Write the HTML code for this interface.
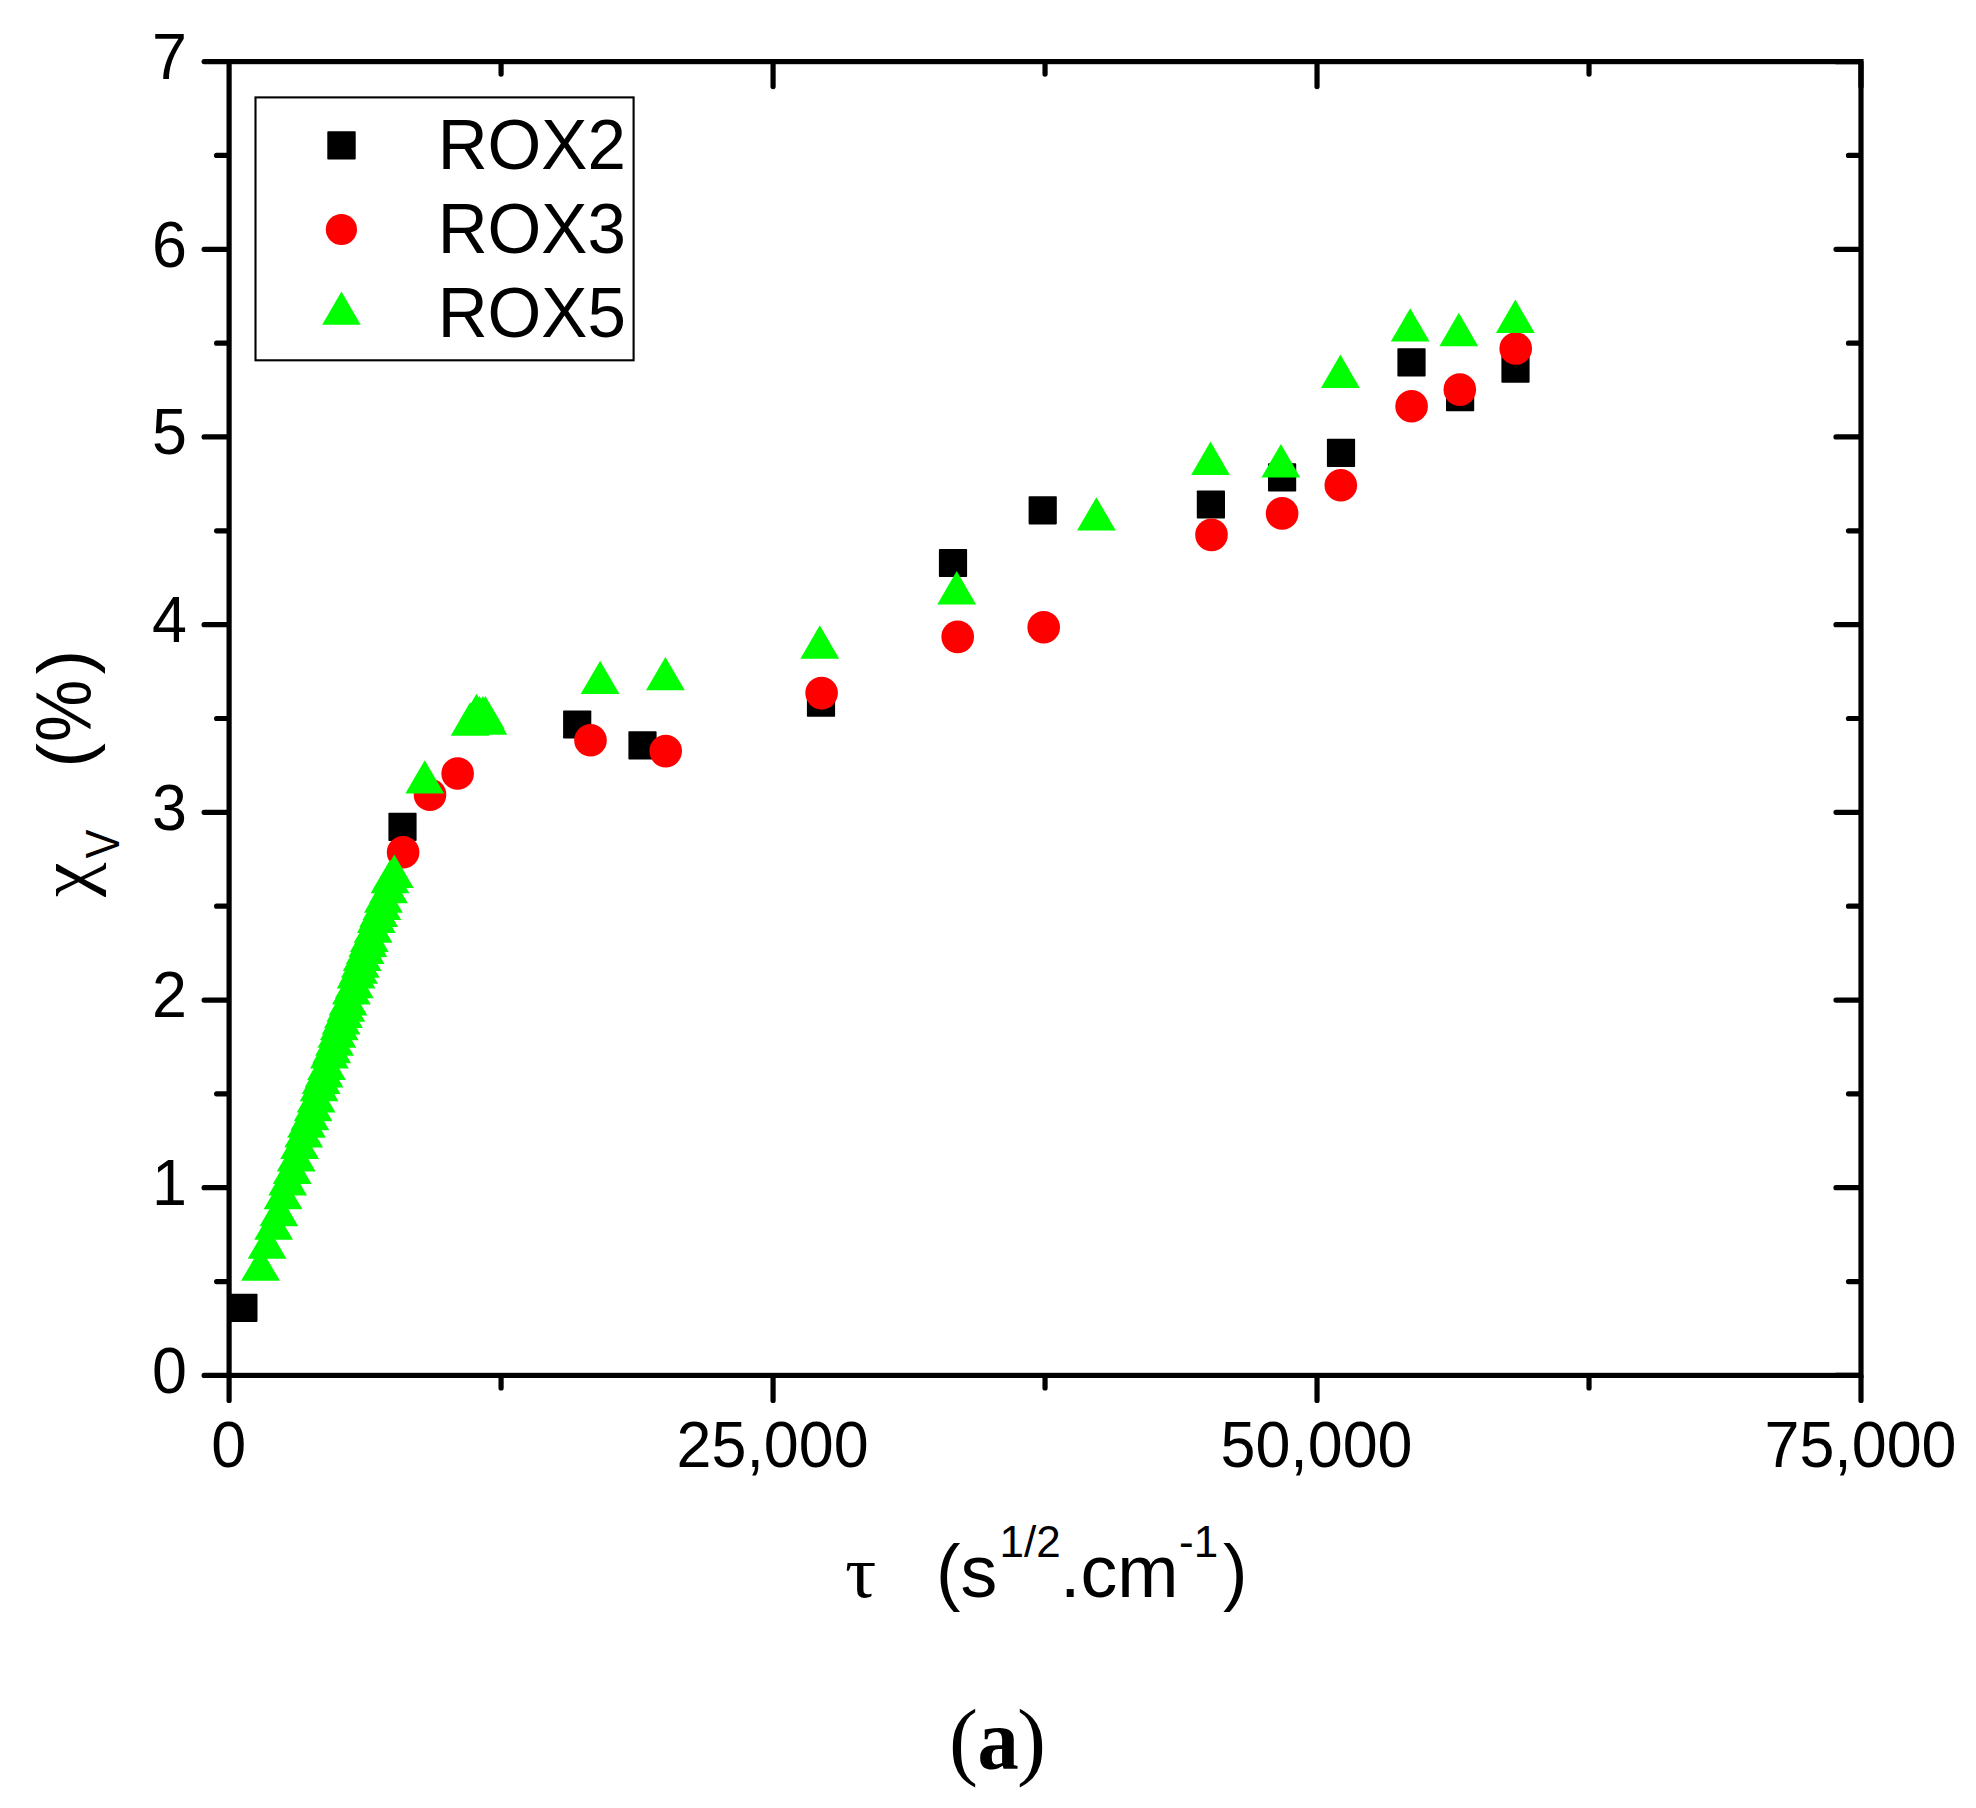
<!DOCTYPE html>
<html lang="en"><head><meta charset="utf-8"><title>Figure (a)</title>
<style>html,body{margin:0;padding:0;background:#fff}svg{display:block}</style></head><body>
<svg width="1976" height="1808" viewBox="0 0 1976 1808">
<rect width="1976" height="1808" fill="#fff"/>
<g fill="#000">
<rect x="229.30" y="1293.70" width="28.2" height="28.2" rx="0.8"/>
<rect x="388.40" y="812.80" width="28.2" height="28.2" rx="0.8"/>
<rect x="563.10" y="710.40" width="28.2" height="28.2" rx="0.8"/>
<rect x="628.40" y="731.30" width="28.2" height="28.2" rx="0.8"/>
<rect x="806.90" y="688.65" width="28.2" height="28.2" rx="0.8"/>
<rect x="938.90" y="548.90" width="28.2" height="28.2" rx="0.8"/>
<rect x="1028.60" y="496.20" width="28.2" height="28.2" rx="0.8"/>
<rect x="1196.80" y="490.40" width="28.2" height="28.2" rx="0.8"/>
<rect x="1268.00" y="463.30" width="28.2" height="28.2" rx="0.8"/>
<rect x="1326.90" y="438.75" width="28.2" height="28.2" rx="0.8"/>
<rect x="1397.40" y="348.30" width="28.2" height="28.2" rx="0.8"/>
<rect x="1446.00" y="383.10" width="28.2" height="28.2" rx="0.8"/>
<rect x="1501.40" y="354.60" width="28.2" height="28.2" rx="0.8"/>
</g><g fill="#f00">
<circle cx="403.10" cy="852.30" r="16.3"/>
<circle cx="430.00" cy="794.80" r="16.3"/>
<circle cx="457.65" cy="773.55" r="16.3"/>
<circle cx="590.50" cy="740.20" r="16.3"/>
<circle cx="665.70" cy="751.10" r="16.3"/>
<circle cx="821.60" cy="693.10" r="16.3"/>
<circle cx="957.70" cy="636.90" r="16.3"/>
<circle cx="1043.70" cy="627.20" r="16.3"/>
<circle cx="1211.50" cy="534.90" r="16.3"/>
<circle cx="1282.10" cy="513.40" r="16.3"/>
<circle cx="1340.80" cy="485.20" r="16.3"/>
<circle cx="1411.60" cy="406.20" r="16.3"/>
<circle cx="1459.80" cy="389.60" r="16.3"/>
<circle cx="1515.70" cy="348.50" r="16.3"/>
</g><g fill="#0f0">
<path d="M241.10 1280.80L260.50 1247.40L279.90 1280.80Z"/>
<path d="M247.70 1258.80L267.10 1225.40L286.50 1258.80Z"/>
<path d="M254.20 1239.80L273.60 1206.40L293.00 1239.80Z"/>
<path d="M259.50 1226.30L278.90 1192.90L298.30 1226.30Z"/>
<path d="M263.60 1209.30L283.00 1175.90L302.40 1209.30Z"/>
<path d="M268.30 1195.60L287.70 1162.20L307.10 1195.60Z"/>
<path d="M272.80 1184.00L292.20 1150.60L311.60 1184.00Z"/>
<path d="M276.80 1171.50L296.20 1138.10L315.60 1171.50Z"/>
<path d="M280.20 1159.10L299.60 1125.70L319.00 1159.10Z"/>
<path d="M284.30 1147.60L303.70 1114.20L323.10 1147.60Z"/>
<path d="M287.10 1137.70L306.50 1104.30L325.90 1137.70Z"/>
<path d="M290.50 1130.20L309.90 1096.80L329.30 1130.20Z"/>
<path d="M293.70 1121.30L313.10 1087.90L332.50 1121.30Z"/>
<path d="M296.70 1112.50L316.10 1079.10L335.50 1112.50Z"/>
<path d="M299.70 1101.20L319.10 1067.80L338.50 1101.20Z"/>
<path d="M301.80 1094.00L321.20 1060.60L340.60 1094.00Z"/>
<path d="M304.60 1087.50L324.00 1054.10L343.40 1087.50Z"/>
<path d="M307.10 1079.90L326.50 1046.50L345.90 1079.90Z"/>
<path d="M310.00 1068.50L329.40 1035.10L348.80 1068.50Z"/>
<path d="M312.30 1063.20L331.70 1029.80L351.10 1063.20Z"/>
<path d="M315.10 1055.70L334.50 1022.30L353.90 1055.70Z"/>
<path d="M317.50 1047.80L336.90 1014.40L356.30 1047.80Z"/>
<path d="M319.80 1040.30L339.20 1006.90L358.60 1040.30Z"/>
<path d="M321.70 1034.60L341.10 1001.20L360.50 1034.60Z"/>
<path d="M324.10 1028.00L343.50 994.60L362.90 1028.00Z"/>
<path d="M326.40 1021.80L345.80 988.40L365.20 1021.80Z"/>
<path d="M328.60 1015.40L348.00 982.00L367.40 1015.40Z"/>
<path d="M332.00 1004.50L351.40 971.10L370.80 1004.50Z"/>
<path d="M334.90 998.30L354.30 964.90L373.70 998.30Z"/>
<path d="M336.70 988.50L356.10 955.10L375.50 988.50Z"/>
<path d="M339.20 983.80L358.60 950.40L378.00 983.80Z"/>
<path d="M340.90 977.80L360.30 944.40L379.70 977.80Z"/>
<path d="M342.80 971.00L362.20 937.60L381.60 971.00Z"/>
<path d="M345.80 964.10L365.20 930.70L384.60 964.10Z"/>
<path d="M348.40 957.10L367.80 923.70L387.20 957.10Z"/>
<path d="M349.90 951.90L369.30 918.50L388.70 951.90Z"/>
<path d="M353.70 942.80L373.10 909.40L392.50 942.80Z"/>
<path d="M356.90 933.00L376.30 899.60L395.70 933.00Z"/>
<path d="M359.30 927.00L378.70 893.60L398.10 927.00Z"/>
<path d="M362.50 919.90L381.90 886.50L401.30 919.90Z"/>
<path d="M364.00 912.70L383.40 879.30L402.80 912.70Z"/>
<path d="M369.10 903.30L388.50 869.90L407.90 903.30Z"/>
<path d="M370.60 893.20L390.00 859.80L409.40 893.20Z"/>
<path d="M374.90 888.00L394.30 854.60L413.70 888.00Z"/>
<path d="M405.35 793.60L424.75 760.20L444.15 793.60Z"/>
<path d="M450.70 735.70L470.10 702.30L489.50 735.70Z"/>
<path d="M457.10 727.10L476.50 693.70L495.90 727.10Z"/>
<path d="M460.10 729.30L479.50 695.90L498.90 729.30Z"/>
<path d="M463.50 729.30L482.90 695.90L502.30 729.30Z"/>
<path d="M466.00 729.30L485.40 695.90L504.80 729.30Z"/>
<path d="M468.40 734.80L487.80 701.40L507.20 734.80Z"/>
<path d="M580.70 694.10L600.10 660.70L619.50 694.10Z"/>
<path d="M646.00 690.30L665.40 656.90L684.80 690.30Z"/>
<path d="M800.40 658.70L819.80 625.30L839.20 658.70Z"/>
<path d="M937.30 604.50L956.70 571.10L976.10 604.50Z"/>
<path d="M1077.00 530.60L1096.40 497.20L1115.80 530.60Z"/>
<path d="M1191.10 474.90L1210.50 441.50L1229.90 474.90Z"/>
<path d="M1261.50 477.40L1280.90 444.00L1300.30 477.40Z"/>
<path d="M1321.00 387.90L1340.40 354.50L1359.80 387.90Z"/>
<path d="M1390.80 341.60L1410.20 308.20L1429.60 341.60Z"/>
<path d="M1439.40 346.20L1458.80 312.80L1478.20 346.20Z"/>
<path d="M1495.90 332.90L1515.30 299.50L1534.70 332.90Z"/>
</g>
<g stroke="#000" stroke-width="5.2" stroke-linecap="round" fill="none">
<path d="M228.10 1375.40H204.10M1860.00 1375.40H1836.00"/>
<path d="M228.10 1281.56H216.60M1860.00 1281.56H1848.50"/>
<path d="M228.10 1187.71H204.10M1860.00 1187.71H1836.00"/>
<path d="M228.10 1093.87H216.60M1860.00 1093.87H1848.50"/>
<path d="M228.10 1000.03H204.10M1860.00 1000.03H1836.00"/>
<path d="M228.10 906.19H216.60M1860.00 906.19H1848.50"/>
<path d="M228.10 812.34H204.10M1860.00 812.34H1836.00"/>
<path d="M228.10 718.50H216.60M1860.00 718.50H1848.50"/>
<path d="M228.10 624.66H204.10M1860.00 624.66H1836.00"/>
<path d="M228.10 530.81H216.60M1860.00 530.81H1848.50"/>
<path d="M228.10 436.97H204.10M1860.00 436.97H1836.00"/>
<path d="M228.10 343.13H216.60M1860.00 343.13H1848.50"/>
<path d="M228.10 249.29H204.10M1860.00 249.29H1836.00"/>
<path d="M228.10 155.44H216.60M1860.00 155.44H1848.50"/>
<path d="M228.10 61.60H204.10M1860.00 61.60H1836.00"/>
<path d="M229.10 1376.40V1400.40"/>
<path d="M501.08 1376.40V1387.90M501.08 62.60V74.10"/>
<path d="M773.07 1376.40V1400.40M773.07 62.60V86.60"/>
<path d="M1045.05 1376.40V1387.90M1045.05 62.60V74.10"/>
<path d="M1317.03 1376.40V1400.40M1317.03 62.60V86.60"/>
<path d="M1589.02 1376.40V1387.90M1589.02 62.60V74.10"/>
<path d="M1861.00 1376.40V1400.40M1861.00 62.60V86.60"/>
</g>
<rect x="229.1" y="61.6" width="1631.90" height="1313.80" fill="none" stroke="#000" stroke-width="5.2"/>
<g fill="#000">
<text transform="translate(186.9 1392.8) scale(1 1.04)" text-anchor="end" style='font-family:"Liberation Sans",sans-serif;font-size:62.8px'>0</text>
<text transform="translate(186.9 1205.11) scale(1 1.04)" text-anchor="end" style='font-family:"Liberation Sans",sans-serif;font-size:62.8px'>1</text>
<text transform="translate(186.9 1017.43) scale(1 1.04)" text-anchor="end" style='font-family:"Liberation Sans",sans-serif;font-size:62.8px'>2</text>
<text transform="translate(186.9 829.74) scale(1 1.04)" text-anchor="end" style='font-family:"Liberation Sans",sans-serif;font-size:62.8px'>3</text>
<text transform="translate(186.9 642.06) scale(1 1.04)" text-anchor="end" style='font-family:"Liberation Sans",sans-serif;font-size:62.8px'>4</text>
<text transform="translate(186.9 454.37) scale(1 1.04)" text-anchor="end" style='font-family:"Liberation Sans",sans-serif;font-size:62.8px'>5</text>
<text transform="translate(186.9 266.69) scale(1 1.04)" text-anchor="end" style='font-family:"Liberation Sans",sans-serif;font-size:62.8px'>6</text>
<text transform="translate(186.9 79.0) scale(1 1.04)" text-anchor="end" style='font-family:"Liberation Sans",sans-serif;font-size:62.8px'>7</text>
<text transform="translate(228.6 1466.5) scale(1 1.04)" text-anchor="middle" style='font-family:"Liberation Sans",sans-serif;font-size:62.8px'>0</text>
<text transform="translate(772.57 1466.5) scale(1 1.04)" text-anchor="middle" style='font-family:"Liberation Sans",sans-serif;font-size:62.8px'>25,000</text>
<text transform="translate(1316.53 1466.5) scale(1 1.04)" text-anchor="middle" style='font-family:"Liberation Sans",sans-serif;font-size:62.8px'>50,000</text>
<text transform="translate(1860.5 1466.5) scale(1 1.04)" text-anchor="middle" style='font-family:"Liberation Sans",sans-serif;font-size:62.8px'>75,000</text>
</g>
<rect x="255.5" y="97.4" width="378.1" height="262.9" fill="#fff" stroke="#000" stroke-width="2.1"/>
<rect x="327.30" y="131.20" width="28.4" height="28.4" rx="0.8" fill="#000"/>
<circle cx="341.4" cy="229.5" r="15.6" fill="#f00"/>
<path d="M322.2 324.7L341.45 291.4L360.7 324.7Z" fill="#0f0"/>
<g fill="#000">
<text transform="translate(437.7 169.1) scale(1 1.03)" style='font-family:"Liberation Sans",sans-serif;font-size:69.1px'>ROX2</text>
<text transform="translate(437.7 253.1) scale(1 1.03)" style='font-family:"Liberation Sans",sans-serif;font-size:69.1px'>ROX3</text>
<text transform="translate(437.7 337.2) scale(1 1.03)" style='font-family:"Liberation Sans",sans-serif;font-size:69.1px'>ROX5</text>
</g>
<g fill="#000">
<text transform="translate(845 1597.3) scale(1 0.96)" style='font-family:"Liberation Serif",serif;font-size:78px'>τ</text>
<text transform="translate(936 1596.8)" style='font-family:"Liberation Sans",sans-serif;font-size:73.5px'>(s</text>
<text transform="translate(999.6 1557) scale(1 1.02)" style='font-family:"Liberation Sans",sans-serif;font-size:44px'>1/2</text>
<text transform="translate(1060 1596.8)" style='font-family:"Liberation Sans",sans-serif;font-size:73.5px'>.cm</text>
<text transform="translate(1179 1557) scale(1 1.02)" style='font-family:"Liberation Sans",sans-serif;font-size:44px'>-1</text>
<text transform="translate(1223 1596.8)" style='font-family:"Liberation Sans",sans-serif;font-size:73.5px'>)</text>
</g>
<g transform="translate(90.4 0) rotate(-90)" fill="#000">
<text transform="translate(-897 -0.8) scale(1 0.94)" style='font-family:"Liberation Serif",serif;font-size:78px'>χ</text>
<text transform="translate(-858.6 28.2) scale(1 1.09)" style='font-family:"Liberation Sans",sans-serif;font-size:43.5px'>V</text>
<text transform="translate(-767.6 0)" style='font-family:"Liberation Sans",sans-serif;font-size:73.5px'>(</text>
<text transform="translate(-742.0 0.9) scale(1 1.12)" style='font-family:"Liberation Sans",sans-serif;font-size:70px'>%</text>
<text transform="translate(-674.4 0)" style='font-family:"Liberation Sans",sans-serif;font-size:73.5px'>)</text>
</g>
<g fill="#000">
<text transform="translate(949 1769)" style='font-family:"Liberation Serif",serif;font-size:87px'>(</text>
<text transform="translate(977.5 1769) scale(0.95 1)" style='font-family:"Liberation Serif",serif;font-size:87px' font-weight="bold">a</text>
<text transform="translate(1017 1769)" style='font-family:"Liberation Serif",serif;font-size:87px'>)</text>
</g>
</svg></body></html>
